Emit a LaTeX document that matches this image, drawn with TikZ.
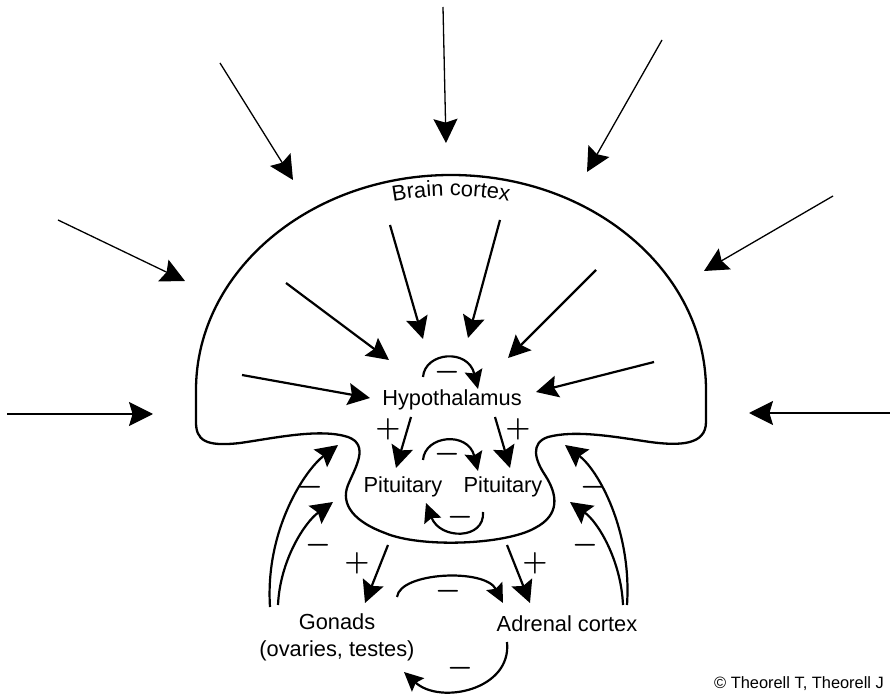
\documentclass[tikz,border=0pt]{standalone}
\usepackage{fontspec}
\setmainfont{Liberation Sans}
\usetikzlibrary{arrows.meta,decorations.text}
\newcommand\diagfont{\fontsize{10.9}{13.5}\selectfont}
\newcommand\signfont{\fontsize{14.5}{16}\selectfont\boldmath}
\tikzset{
  outline/.style={line width=1.15pt},
  stimulus/.style={line width=0.65pt,-{Stealth[length=12pt,width=12pt,inset=1.8pt]}},
  signal/.style={line width=1.1pt,-{Stealth[length=11pt,width=11pt,inset=1.8pt]}},
  feedback/.style={line width=1.1pt,-{Stealth[length=9.5pt,width=9pt,inset=1.5pt]}},
  organ/.style={font=\diagfont,inner sep=1pt},
  sign/.style={font=\signfont,inner sep=0pt},
}

\begin{document}
\begin{tikzpicture}[x=0.5pt,y=-0.5pt]
  \useasboundingbox (0,0) rectangle (890,695);
  % cap and stalk
  \draw[outline] (196,422) -- (196,390)
    arc[start angle=180,end angle=360,x radius=255,y radius=215]
    -- (706,422)
    .. controls (706,445) and (680,446) .. (650,442)
    .. controls (610,436) and (575,430) .. (548,437)
    .. controls (530,443) and (535,460) .. (545,475)
    .. controls (558,495) and (560,515) .. (535,528)
    .. controls (505,545) and (420,548) .. (385,533)
    .. controls (355,522) and (340,505) .. (348,485)
    .. controls (355,468) and (370,445) .. (348,437)
    .. controls (320,428) and (275,438) .. (240,443)
    .. controls (205,447) and (196,440) .. (196,422) -- cycle;
  \path[decorate,decoration={text along path,text align=center,
      text={|\diagfont|Brain cortex}}]
    (451,516) ++(250:320) arc[start angle=250,end angle=290,radius=320];

  \node[organ] (hyp) at (452,400) {Hypothalamus};
  \node[organ] (pitL) at (403,487) {Pituitary};
  \node[organ] (pitR) at (503,487) {Pituitary};
  \node[organ,align=center] (gon) at (337,637) {Gonads\\(ovaries, testes)};
  \node[organ] (adr) at (567,624) {Adrenal cortex};
  \node[font=\fontsize{8.2}{10}\selectfont,inner sep=0pt] (credit) at (799,684) {© Theorell T, Theorell J};

  % outside world
  \foreach \n/\sx/\sy/\tx/\ty in {1/443/7/446/143, 2/220/63/293/180, 3/662/40/587/172,
      4/58/220/185/281, 5/833/196/704/271, 6/7/414/153/414, 7/890/413/749/413}{
    \coordinate (stim\n) at (\sx,\sy);
    \coordinate (cap\n) at (\tx,\ty);
    \draw[stimulus] (stim\n) -- (cap\n);
  }
  % cortex to hypothalamus
  \foreach \n/\sx/\sy/\tx/\ty in {1/390/225/423/339, 2/286/283/389/360, 3/242/375/370/398,
      4/500/220/468/338, 5/596/270/508/358, 6/654/362/536/392}{
    \coordinate (ctx\n) at (\sx,\sy);
    \coordinate (hyp\n) at (\tx,\ty);
    \draw[signal] (ctx\n) -- (hyp\n);
  }

  \coordinate (hypL) at (411,417);
  \coordinate (hypR) at (495,417);
  \coordinate (pitLin) at (396,468);
  \coordinate (pitRin) at (510,468);
  \coordinate (pitLout) at (388,545);
  \coordinate (pitRout) at (507,545);
  \coordinate (gonin) at (365,603);
  \coordinate (adrin) at (530,603);
  \draw[signal] (hypL) -- (pitLin);
  \draw[signal] (hypR) -- (pitRin);
  \draw[signal] (pitLout) -- (gonin);
  \draw[signal] (pitRout) -- (adrin);

  % feedback to the brain
  \coordinate (gonA) at (270,607);
  \coordinate (gonB) at (278,605);
  \coordinate (adrA) at (627,605);
  \coordinate (adrB) at (623,605);
  \coordinate (brainL) at (338,445);
  \coordinate (stalkL) at (333,502);
  \coordinate (brainR) at (565,445);
  \coordinate (stalkR) at (570,502);
  \draw[signal] (gonA) .. controls (265,530) and (305,470) .. (brainL);
  \draw[signal] (gonB) .. controls (280,560) and (305,522) .. (stalkL);
  \draw[signal] (adrA) .. controls (632,530) and (598,470) .. (brainR);
  \draw[signal] (adrB) .. controls (621,560) and (598,522) .. (stalkR);

  % short loops
  \coordinate (hypself) at (423,377);
  \coordinate (hypback) at (478,389);
  \coordinate (pitLtop) at (423,460);
  \coordinate (pitRtop) at (478,471);
  \coordinate (pitRbot) at (483,512);
  \coordinate (pitLbot) at (426,503);
  \coordinate (gonR) at (397,597);
  \coordinate (adrL) at (503,603);
  \coordinate (adrbot) at (507,642);
  \coordinate (gonbot) at (404,672);
  \draw[feedback] (hypself) .. controls (425,352) and (468,348) .. (hypback);
  \draw[feedback] (pitLtop) .. controls (425,435) and (468,431) .. (pitRtop);
  \draw[feedback] (pitRbot) .. controls (485,540) and (440,540) .. (pitLbot);
  \draw[feedback] (gonR) .. controls (400,572) and (485,568) .. (adrL);
  \draw[feedback] (adrbot) .. controls (512,690) and (440,705) .. (gonbot);

  \foreach \n/\x/\y/\s in {1/447/372/-, 2/388/429/+, 3/518/429/+, 4/447/454/-, 5/460/517/-,
      6/310/487/-, 7/318/545/-, 8/593/487/-, 9/585/545/-, 10/357/563/+, 11/535/563/+,
      12/448/591/-, 13/460/668/-}{
    \node[sign] (sgn\n) at (\x,\y) {$\s$};
  }
\end{tikzpicture}
\end{document}
